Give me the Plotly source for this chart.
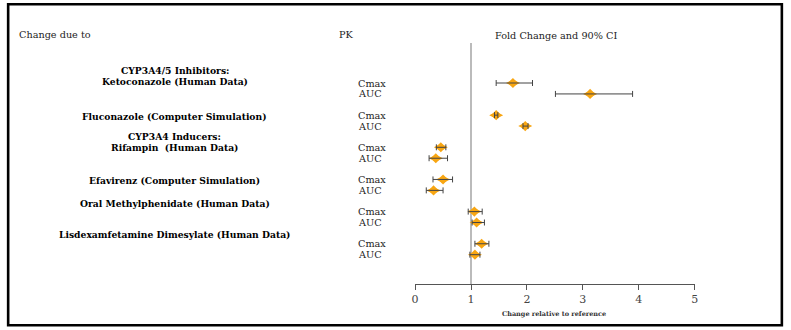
import plotly.graph_objects as go

# Forest plot data: fold change (point estimate) with 90% CI
drugs = [
    "Ketoconazole (Human Data)",
    "Fluconazole (Computer Simulation)",
    "Rifampin  (Human Data)",
    "Efavirenz (Computer Simulation)",
    "Oral Methylphenidate (Human Data)",
    "Lisdexamfetamine Dimesylate (Human Data)",
]
pk_params = ["Cmax", "AUC"]

cmax_est = [1.75, 1.45, 0.46, 0.50, 1.06, 1.19]
cmax_lo = [1.45, 1.42, 0.38, 0.32, 0.95, 1.07]
cmax_hi = [2.10, 1.48, 0.55, 0.67, 1.20, 1.32]

auc_est = [3.13, 1.97, 0.37, 0.33, 1.10, 1.07]
auc_lo = [2.51, 1.93, 0.25, 0.20, 1.02, 0.98]
auc_hi = [3.89, 2.02, 0.58, 0.50, 1.24, 1.16]

x_ticks = [0, 1, 2, 3, 4, 5]

W, H = 791, 330
SERIF = "DejaVu Serif"
ORANGE = "#F8A612"
DARK = "#444444"


def py(px):
    """Convert a pixel offset from the top into paper y."""
    return 1 - px / H


def px_x(px):
    return px / W


# Row layout: each drug is one group, Cmax above AUC
AUC_OFFSET = 0.34
y_cmax = [g for g in range(len(drugs))]
y_auc = [g + AUC_OFFSET for g in range(len(drugs))]

xs = cmax_est + auc_est
ys = y_cmax + y_auc
lo = cmax_lo + auc_lo
hi = cmax_hi + auc_hi
err_plus = [h - e for h, e in zip(hi, xs)]
err_minus = [e - l for e, l in zip(xs, lo)]

fig = go.Figure()

# Point estimates: a wide and a square diamond overlaid give a squat diamond
for sym, sz in (("diamond-wide", 10.0), ("diamond", 7.8)):
    fig.add_trace(go.Scatter(
        x=xs, y=ys, mode="markers",
        marker=dict(symbol=sym, size=sz, color=ORANGE, line=dict(width=0)),
        hoverinfo="x", showlegend=False,
    ))
# CI whiskers on top of the diamonds
fig.add_trace(go.Scatter(
    x=xs, y=ys, mode="markers",
    marker=dict(size=1, opacity=0),
    error_x=dict(type="data", symmetric=False, array=err_plus,
                 arrayminus=err_minus, color=DARK, thickness=1, width=3),
    hoverinfo="skip", showlegend=False,
))

x0_px, x5_px = 415.3, 697.7
row0_px, row_step_px = 83.0, 32.15
axis_px = 284.0

fig.update_layout(
    width=W, height=H,
    margin=dict(l=0, r=0, t=0, b=0),
    paper_bgcolor="white", plot_bgcolor="white",
    font=dict(family=SERIF, color="#222222"),
    xaxis=dict(
        domain=[px_x(x0_px), px_x(x5_px)],
        range=[0, 5], tickvals=x_ticks,
        showgrid=False, zeroline=False,
        showline=True, linecolor="#555555", linewidth=1,
        ticks="outside", ticklen=5, tickcolor="#555555",
        tickfont=dict(family=SERIF, size=11, color="#444444"),
        anchor="free", position=py(axis_px),
        fixedrange=True,
    ),
    yaxis=dict(
        domain=[0, 1],
        range=[(H - row0_px) / row_step_px, -row0_px / row_step_px],
        visible=False, fixedrange=True,
    ),
)

# Reference line at no change
fig.add_shape(type="line", xref="x", yref="paper", x0=1, x1=1,
              y0=py(axis_px), y1=py(43), line=dict(color="#BBBBBB", width=2),
              layer="below")

# Outer frame
fig.add_shape(type="rect", xref="paper", yref="paper",
              x0=px_x(4.2), x1=px_x(785.8), y0=py(325.3), y1=py(4.2),
              line=dict(color="black", width=2.6))

ann = []
# Column headers
ann.append(dict(text="Change due to", x=px_x(13), y=py(34), xanchor="left"))
ann.append(dict(text="PK", x=px_x(336), y=py(34), xanchor="left"))
ann.append(dict(text="Fold Change and 90% CI", x=px_x(494), y=py(35),
                xanchor="left"))
for a in ann:
    a.update(xref="paper", yref="paper", yanchor="middle", showarrow=False,
             font=dict(family=SERIF, size=9.7, color="#222222"))

# Drug labels (bold, centred in the left column)
label_rows = [
    ("CYP3A4/5 Inhibitors:", 70.7),
    (drugs[0], 81.5),
    (drugs[1], 116.5),
    ("CYP3A4 Inducers:", 136.7),
    (drugs[2], 147.7),
    (drugs[3], 180.7),
    (drugs[4], 203.3),
    (drugs[5], 234.0),
]
for txt, ypx in label_rows:
    ann.append(dict(text="<b>%s</b>" % txt.replace("  ", "&nbsp; "),
                    x=px_x(172.5), y=py(ypx),
                    xref="paper", yref="paper", xanchor="center",
                    yanchor="middle", showarrow=False,
                    font=dict(family=SERIF, size=9.2, color="black")))

# PK parameter labels next to each row
for yc, ya in zip(y_cmax, y_auc):
    for name, yy in zip(pk_params, (yc, ya)):
        ann.append(dict(text=name, x=px_x(356), y=yy, xref="paper", yref="y",
                        xanchor="left", yanchor="middle", showarrow=False,
                        font=dict(family=SERIF, size=9.7, color="#222222")))

# Axis title
ann.append(dict(text="<b>Change relative to reference</b>",
                x=px_x(556), y=py(314), xref="paper", yref="paper",
                xanchor="center", yanchor="middle", showarrow=False,
                font=dict(family=SERIF, size=6.5, color="#333333")))

fig.update_layout(annotations=ann)

fig.write_html("out.html")
